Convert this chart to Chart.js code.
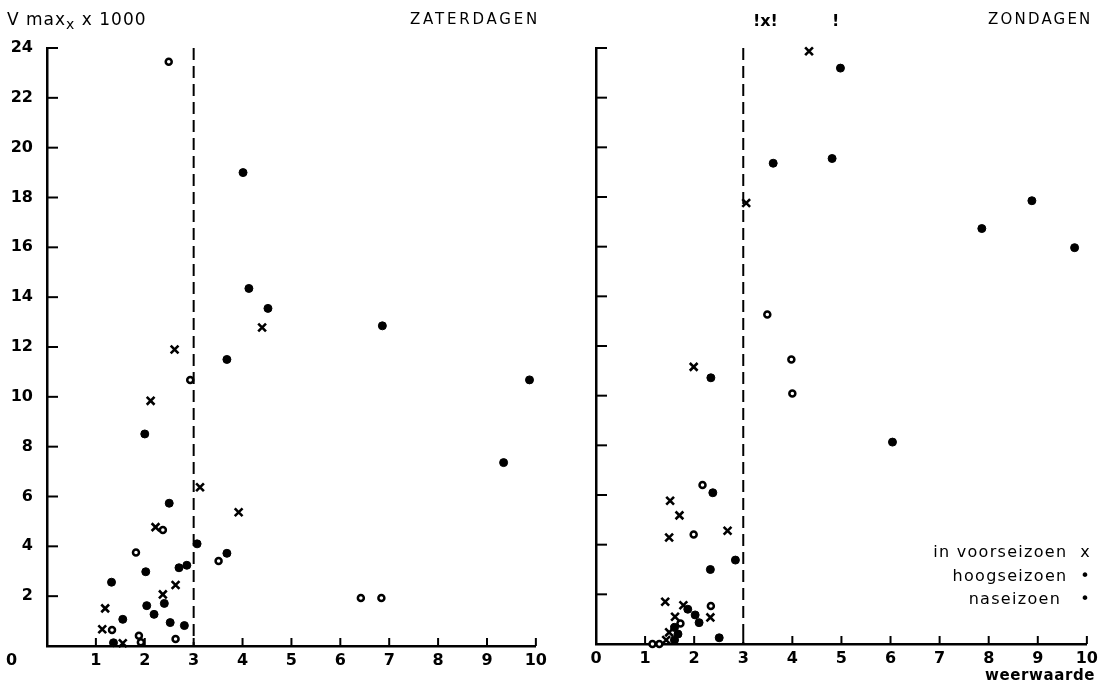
<!DOCTYPE html>
<html>
<head>
<meta charset="utf-8">
<script src="https://cdn.jsdelivr.net/npm/chart.js@4/dist/chart.umd.min.js"></script>
<style>
  body { margin: 0; background: #fff; }
  #wrap { position: relative; width: 1103px; height: 689px; overflow: hidden; font-family: "DejaVu Sans", sans-serif; color: #000; }
  canvas { position: absolute; top: 0; }
  .txt { position: absolute; white-space: nowrap; }
</style>
</head>
<body>
<div id="wrap">
  <canvas id="sat" width="552" height="689" style="left:0;width:552px;height:689px"></canvas>
  <canvas id="sun" width="554" height="689" style="left:549px;width:554px;height:689px"></canvas>
  <div class="txt" style="left:7px;top:9px;font-size:17px;letter-spacing:1px">V max<sub style="font-size:14px">x</sub> x 1000</div>
  <div class="txt" style="left:410px;top:10px;font-size:15px;letter-spacing:2.8px">ZATERDAGEN</div>
  <div class="txt" style="left:988px;top:10px;font-size:15px;letter-spacing:2.2px">ZONDAGEN</div>
  <div class="txt" style="left:6px;top:650px;font-size:16px;font-weight:bold">0</div>
  <div class="txt" style="right:12px;top:540px;font-size:16px;letter-spacing:1.3px;text-align:right;line-height:23.5px">
    in voorseizoen&nbsp; x<br>hoogseizoen&nbsp; •<br>naseizoen&nbsp;&nbsp; •
  </div>
  <div class="txt" style="left:985px;top:666px;font-size:15px;font-weight:bold;letter-spacing:0.6px">weerwaarde</div>
</div>
<script>
// weerwaarde (x) en V max x 1000 (y), per seizoen
const xTicks = [0, 1, 2, 3, 4, 5, 6, 7, 8, 9, 10];
const yTicks = [0, 2, 4, 6, 8, 10, 12, 14, 16, 18, 20, 22, 24];
const grensWaarde = 3;

// zaterdagen
const zatVoorX = [2.61, 4.40, 2.12, 3.13, 3.92, 2.22, 2.63, 2.37, 1.19, 1.13, 1.55];
const zatVoorY = [11.9, 12.78, 9.84, 6.37, 5.37, 4.77, 2.45, 2.07, 1.51, 0.67, 0.11];
const zatHoogX = [4.01, 4.13, 4.52, 3.68, 2.0, 6.86, 9.87, 9.34, 2.50, 3.07, 3.68, 2.02, 2.70, 2.86, 1.32, 2.40, 2.04, 2.19, 1.55, 2.52, 2.81, 1.36];
const zatHoogY = [19.0, 14.35, 13.55, 11.5, 8.51, 12.85, 10.68, 7.36, 5.73, 4.10, 3.72, 2.98, 3.14, 3.24, 2.56, 1.71, 1.62, 1.27, 1.07, 0.94, 0.82, 0.13];
const zatNaX = [2.49, 2.93, 2.37, 1.82, 3.51, 1.33, 1.88, 1.92, 2.63, 6.42, 6.84];
const zatNaY = [23.45, 10.68, 4.66, 3.75, 3.41, 0.64, 0.41, 0.15, 0.28, 1.93, 1.93];

// zondagen
const zonVoorX = [4.34, 3.06, 1.99, 1.51, 1.70, 2.68, 1.49, 1.41, 1.78, 2.33, 1.61, 1.49, 1.43];
const zonVoorY = [23.87, 17.76, 11.16, 5.77, 5.18, 4.56, 4.29, 1.70, 1.56, 1.07, 1.10, 0.47, 0.16];
const zonHoogX = [4.98, 3.61, 4.81, 8.88, 7.86, 9.75, 6.04, 2.34, 2.38, 2.84, 2.33, 1.87, 2.02, 2.10, 1.60, 1.67, 1.60, 2.51];
const zonHoogY = [23.19, 19.36, 19.55, 17.85, 16.73, 15.96, 8.13, 10.72, 6.09, 3.38, 3.0, 1.40, 1.17, 0.86, 0.67, 0.40, 0.16, 0.25];
const zonNaX = [3.49, 3.98, 4.0, 2.17, 1.99, 2.34, 1.72, 1.15, 1.29];
const zonNaY = [13.27, 11.46, 10.09, 6.40, 4.41, 1.53, 0.83, 0.0, 0.0];

// waarnemingen boven de schaal (alleen tekens bovenaan zondagen)
const zonBovenX = [3.45, 4.88];
const zonBovenTeken = ["!x!", "!"];

function pts(xs, ys) {
    return xs.map((x, i) => ({ x: x, y: ys[i] }));
}

const tickFont = { family: "DejaVu Sans", size: 16, weight: "bold" };

// kleine streepjes naar binnen, stippellijn bij x = 3, tekens bovenaan
const extrasPlugin = {
    id: "extras",
    afterDatasetsDraw(chart, args, opts) {
        const ctx = chart.ctx;
        const xs = chart.scales.x, ys = chart.scales.y;
        const area = chart.chartArea;
        ctx.save();
        ctx.strokeStyle = "#000";
        ctx.lineWidth = 2;
        xTicks.forEach(v => {
            if (v === 0) return;
            const px = xs.getPixelForValue(v);
            ctx.beginPath();
            ctx.moveTo(px, area.bottom);
            ctx.lineTo(px, area.bottom - 8);
            ctx.stroke();
        });
        yTicks.forEach(v => {
            if (v === 0) return;
            const py = ys.getPixelForValue(v);
            ctx.beginPath();
            ctx.moveTo(area.left, py);
            ctx.lineTo(area.left + 11, py);
            ctx.stroke();
        });
        const gx = xs.getPixelForValue(grensWaarde);
        ctx.setLineDash([12, 6]);
        ctx.beginPath();
        ctx.moveTo(gx, ys.getPixelForValue(24));
        ctx.lineTo(gx, area.bottom);
        ctx.stroke();
        ctx.setLineDash([]);
        if (opts.boven) {
            ctx.fillStyle = "#000";
            ctx.font = "bold 16px DejaVu Sans";
            ctx.textAlign = "center";
            ctx.textBaseline = "middle";
            opts.boven.x.forEach((v, i) => {
                ctx.fillText(opts.boven.teken[i], xs.getPixelForValue(v), ys.getPixelForValue(25.05));
            });
        }
        ctx.restore();
    }
};

function makeChart(id, voor, hoog, na, opt) {
    return new Chart(document.getElementById(id), {
        type: "scatter",
        data: {
            datasets: [
                {
                    label: "in voorseizoen",
                    data: voor,
                    pointStyle: "crossRot",
                    pointRadius: 5.5,
                    borderColor: "#000",
                    borderWidth: 2.6,
                    backgroundColor: "#000"
                },
                {
                    label: "hoogseizoen",
                    data: hoog,
                    pointStyle: "circle",
                    pointRadius: 4,
                    borderColor: "#000",
                    borderWidth: 1,
                    backgroundColor: "#000"
                },
                {
                    label: "naseizoen",
                    data: na,
                    pointStyle: "circle",
                    pointRadius: 3,
                    borderColor: "#000",
                    borderWidth: 2.5,
                    backgroundColor: "#fff"
                }
            ]
        },
        options: {
            responsive: false,
            animation: false,
            clip: false,
            layout: { padding: opt.padding },
            plugins: {
                legend: { display: false },
                tooltip: { enabled: false },
                extras: { boven: opt.boven }
            },
            scales: {
                x: {
                    type: "linear",
                    min: 0,
                    max: 10,
                    afterBuildTicks: s => { s.ticks = xTicks.map(v => ({ value: v })); },
                    afterFit: s => { s.height = opt.xHeight; },
                    grid: { display: false, drawTicks: false },
                    border: { display: true, color: "#000", width: 2.5 },
                    ticks: {
                        color: "#000",
                        font: tickFont,
                        padding: 5,
                        callback: v => (v === 0 && opt.hideX0) ? "" : String(v)
                    }
                },
                y: {
                    type: "linear",
                    min: 0,
                    max: 24,
                    afterBuildTicks: s => { s.ticks = yTicks.map(v => ({ value: v })); },
                    afterFit: s => { s.width = opt.yWidth; },
                    grid: { display: false, drawTicks: false },
                    border: { display: true, color: "#000", width: 2.5 },
                    ticks: {
                        display: opt.yLabels,
                        color: "#000",
                        font: tickFont,
                        padding: 14,
                        callback: v => v === 0 ? "" : String(v)
                    }
                }
            }
        },
        plugins: [extrasPlugin]
    });
}

makeChart("sat", pts(zatVoorX, zatVoorY), pts(zatHoogX, zatHoogY), pts(zatNaX, zatNaY), {
    padding: { left: 0, right: 12, top: 48, bottom: 0 },
    xHeight: 43,
    yWidth: 47,
    yLabels: true,
    hideX0: true,
    boven: null
});

makeChart("sun", pts(zonVoorX, zonVoorY), pts(zonHoogX, zonHoogY), pts(zonNaX, zonNaY), {
    padding: { left: 0, right: 14, top: 48, bottom: 0 },
    xHeight: 45,
    yWidth: 47,
    yLabels: false,
    hideX0: false,
    boven: { x: zonBovenX, teken: zonBovenTeken }
});
</script>
</body>
</html>
